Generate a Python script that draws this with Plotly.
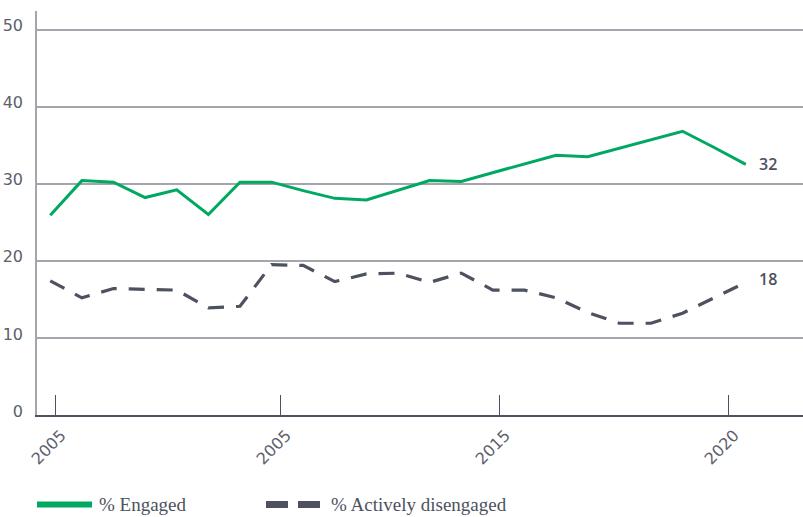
import plotly.graph_objects as go

# ---- data ----
years = list(range(2000, 2023))
engaged = [25.9, 30.4, 30.2, 28.2, 29.2, 26.0, 30.2, 30.2, 29.1, 28.1, 27.9, 29.2,
           30.4, 30.3, 31.4, 32.6, 33.7, 33.5, 34.6, 35.7, 36.8, 34.7, 32.5]
disengaged = [17.4, 15.2, 16.4, 16.3, 16.2, 13.9, 14.1, 19.5, 19.4, 17.3, 18.3, 18.4,
              17.2, 18.4, 16.2, 16.2, 15.2, 13.3, 11.9, 11.9, 13.2, 15.2, 17.2]
end_labels = ["32", "18"]
tick_vals = [2000.16, 2007.28, 2014.21, 2021.45]
tick_text = ["2005", "2005", "2015", "2020"]
y_ticks = [0, 10, 20, 30, 40, 50]
series_names = ["% Engaged", "% Actively disengaged"]

GREEN = "#00a862"
DARK = "#4d5160"
GRID = "#a4a5ad"
TICKC = "#5c606c"

fig = go.Figure()
fig.add_trace(go.Scatter(x=years, y=engaged, mode="lines", name=series_names[0],
                         line=dict(color=GREEN, width=3), showlegend=False))
fig.add_trace(go.Scatter(x=years, y=disengaged, mode="lines", name=series_names[1],
                         line=dict(color=DARK, width=3.2, dash="16px,12px"), showlegend=False))

# end labels
fig.add_annotation(x=years[-1], y=engaged[-1], text=end_labels[0], showarrow=False,
                   xanchor="left", yanchor="middle", xshift=11,
                   font=dict(family="Open Sans", size=16, color=DARK, weight=600))
fig.add_annotation(x=years[-1], y=disengaged[-1], text=end_labels[1], showarrow=False,
                   xanchor="left", yanchor="middle", xshift=11, yshift=3,
                   font=dict(family="Open Sans", size=16, color=DARK, weight=600))

# custom legend (paper coords)
W = 766.0
H = 404.0
def px_x(p):
    return (p - 37) / W
def px_y(p):
    return (415.5 - p) / H

ly = px_y(505)
fig.add_shape(type="line", xref="paper", yref="paper", x0=px_x(37), x1=px_x(92), y0=ly, y1=ly,
              line=dict(color=GREEN, width=6))
fig.add_shape(type="line", xref="paper", yref="paper", x0=px_x(266), x1=px_x(320), y0=ly, y1=ly,
              line=dict(color=DARK, width=7, dash="22px,10px"))
fig.add_annotation(xref="paper", yref="paper", x=px_x(97), y=ly, text=series_names[0],
                   showarrow=False, xanchor="left", yanchor="middle",
                   font=dict(family="Liberation Serif", size=19, color=DARK))
fig.add_annotation(xref="paper", yref="paper", x=px_x(329), y=ly, text=series_names[1],
                   showarrow=False, xanchor="left", yanchor="middle",
                   font=dict(family="Liberation Serif", size=19, color=DARK))

fig.update_layout(
    width=803, height=517,
    margin=dict(l=37, r=0, t=11, b=102, pad=0),
    plot_bgcolor="white", paper_bgcolor="white",
    showlegend=False,
    xaxis=dict(range=[1999.58, 2023.81], tickmode="array", tickvals=tick_vals, ticktext=tick_text,
               tickangle=-45, ticks="inside", ticklen=20, tickcolor=DARK, tickwidth=1,
               showgrid=False, zeroline=False, showline=True, linecolor=DARK, linewidth=1.5,
               ticklabelstandoff=3, ticklabelshift=6,
               tickfont=dict(family="DejaVu Sans", size=16, color=TICKC)),
    yaxis=dict(range=[0, 52.4], tickmode="array", tickvals=y_ticks,
               showgrid=True, gridcolor=GRID, gridwidth=1.5, zeroline=False,
               showline=True, linecolor=GRID, linewidth=1.5, ticks="",
               ticklabelstandoff=9, ticklabelshift=-4,
               tickfont=dict(family="DejaVu Sans", size=16, color=TICKC)),
)

fig.write_html("out.html")
